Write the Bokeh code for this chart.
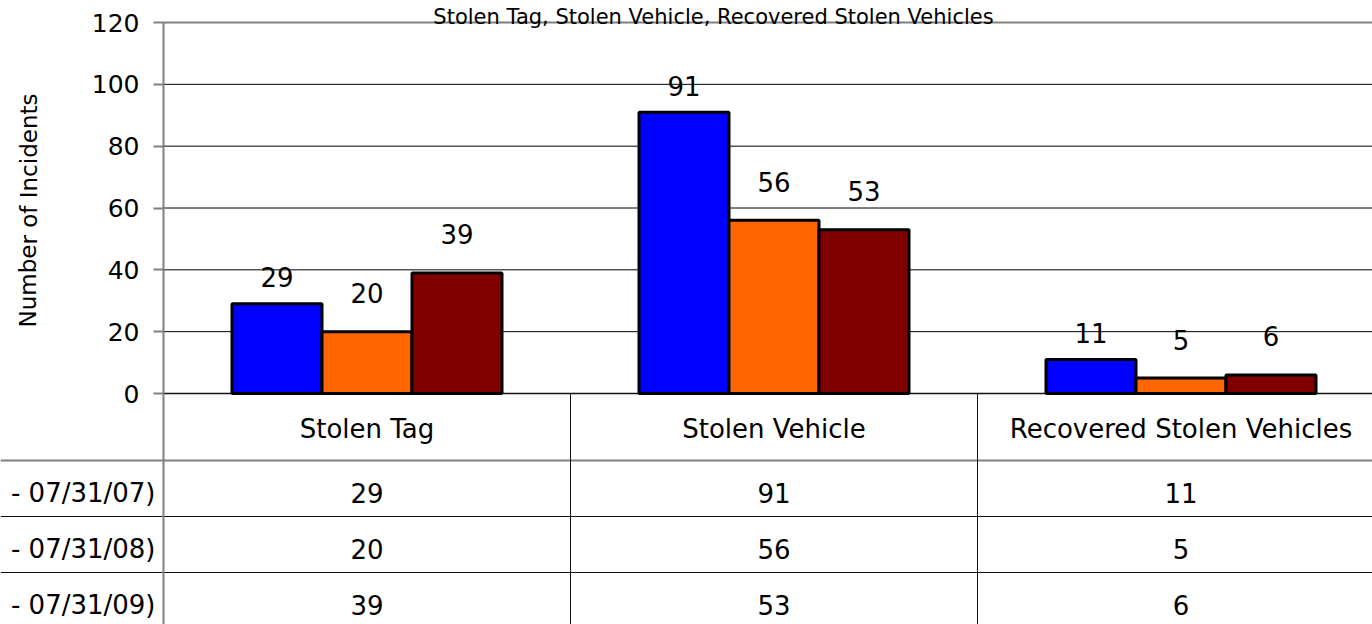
from bokeh.plotting import figure
from bokeh.models import Range1d, LinearAxis, FixedTicker, ColumnDataSource
from bokeh.core.properties import value
from bokeh.embed import file_html
from bokeh.resources import INLINE

# ---------------- data ----------------
title = "Stolen Tag, Stolen Vehicle, Recovered Stolen Vehicles"
y_axis_title = "Number of Incidents"
categories = ["Stolen Tag", "Stolen Vehicle", "Recovered Stolen Vehicles"]
series_names = ["- 07/31/07)", "- 07/31/08)", "- 07/31/09)"]
values_2007 = [29, 91, 11]
values_2008 = [20, 56, 5]
values_2009 = [39, 53, 6]
y_ticks = [0, 20, 40, 60, 80, 100, 120]

series_values = [values_2007, values_2008, values_2009]

# ---------------- styles / layout ----------------
COLORS = ["#0000FF", "#FF6600", "#800000"]
FONT = "DejaVu Sans"
W, H = 1372, 624
PX_CAT = 407.0           # px per category
PX_VAL = 371.0 / 120.0   # px per incident
LEFT_PAD = 163.0         # px from canvas left to value axis
TOP_PAD = 22.0           # px from canvas top to 120 line
BAR_W = 90.0 / PX_CAT
LABEL_DY = [-26.5, -38.5, -38.5]

x_lo = -LEFT_PAD / PX_CAT
x_hi = (W - LEFT_PAD) / PX_CAT
y_hi = 120 + TOP_PAD / PX_VAL
zero_px = TOP_PAD + 120 * PX_VAL          # canvas y of 0 line
y_lo = -(H - zero_px) / PX_VAL

p = figure(width=W, height=H, x_range=Range1d(x_lo, x_hi), y_range=Range1d(y_lo, y_hi),
           x_axis_type=None, y_axis_type=None, toolbar_location=None,
           output_backend="svg", min_border=0)
p.outline_line_color = None
p.background_fill_color = "white"
p.border_fill_color = "white"

# table range in px below the zero line
p.extra_y_ranges = {"tbl": Range1d(start=H - zero_px, end=-zero_px)}

n = len(categories)

# grid lines
mid_ticks = y_ticks[1:-1]
p.segment(x0=[0] * len(mid_ticks), x1=[x_hi] * len(mid_ticks), y0=mid_ticks, y1=mid_ticks,
          line_color="#000000", line_width=1)
p.segment(x0=[0], x1=[x_hi], y0=[y_ticks[-1]], y1=[y_ticks[-1]], line_color="#808080", line_width=2)
p.segment(x0=[0], x1=[x_hi], y0=[y_ticks[0]], y1=[y_ticks[0]], line_color="#111111", line_width=1.5)

# bars
for j, vals in enumerate(series_values):
    xs = [i + 0.5 + (j - 1) * BAR_W for i in range(n)]
    src = ColumnDataSource(dict(x=xs, top=vals, lab=[str(v) for v in vals]))
    p.vbar(x="x", top="top", bottom=0, width=BAR_W, source=src,
           fill_color=COLORS[j], line_color="black", line_width=3)
    p.text(x="x", y="top", text="lab", source=src, y_offset=LABEL_DY[j],
           text_align="center", text_baseline="middle",
           text_font=value(FONT), text_font_size="26px", text_color="black")

# value axis
yaxis = LinearAxis(fixed_location=0, bounds=(0, 120),
                   ticker=FixedTicker(ticks=y_ticks, minor_ticks=[]),
                   major_tick_out=10, major_tick_in=0, minor_tick_out=0, minor_tick_in=0,
                   axis_line_color="#808080", axis_line_width=2,
                   major_tick_line_color="#808080", major_tick_line_width=2,
                   major_label_text_font=FONT, major_label_text_font_size="25px",
                   major_label_standoff=14, major_label_text_color="black")
p.add_layout(yaxis, "left")

# axis title
p.text(x=[(28 - LEFT_PAD) / PX_CAT], y=[(zero_px - 210) / PX_VAL], text=[y_axis_title],
       angle=1.5707963, text_align="center", text_baseline="middle", text_font=value(FONT),
       text_font_size="23px", text_color="black")

# chart title (kept in the thin band above the plot)
p.text(x=[(713 - LEFT_PAD) / PX_CAT], y=[120 + 5.5 / PX_VAL], text=[title],
       text_align="center", text_baseline="alphabetic", text_font=value(FONT),
       text_font_size="21px", text_color="black")

# ---------------- data table ----------------
HEADER_H = 67
ROW_H = 56
row_lines = [HEADER_H + k * ROW_H for k in range(len(series_names))]
tbl_bottom = H - zero_px

p.segment(x0=[x_lo], x1=[x_hi], y0=[row_lines[0]], y1=[row_lines[0]],
          line_color="#808080", line_width=2, y_range_name="tbl")
p.segment(x0=[x_lo] * 2, x1=[x_hi] * 2, y0=row_lines[1:], y1=row_lines[1:],
          line_color="#111111", line_width=1, y_range_name="tbl")
p.segment(x0=[0], x1=[0], y0=[0], y1=[tbl_bottom], line_color="#808080", line_width=2,
          y_range_name="tbl")
p.segment(x0=[1, 2], x1=[1, 2], y0=[0, 0], y1=[tbl_bottom, tbl_bottom],
          line_color="#111111", line_width=1, y_range_name="tbl")

cat_x = [i + 0.5 for i in range(n)]
p.text(x=cat_x, y=[HEADER_H / 2 + 1.5] * n, text=categories, y_range_name="tbl",
       text_align="center", text_baseline="middle", text_font=value(FONT),
       text_font_size="26px", text_color="black")

for k, vals in enumerate(series_values):
    ty = HEADER_H + k * ROW_H + ROW_H / 2 + 4.5
    p.text(x=cat_x, y=[ty] * n, text=[str(v) for v in vals], y_range_name="tbl",
           text_align="center", text_baseline="middle", text_font=value(FONT),
           text_font_size="26px", text_color="black")
    p.text(x=[-8 / PX_CAT], y=[ty], text=[series_names[k]], y_range_name="tbl",
           text_align="right", text_baseline="middle", text_font=value(FONT),
           text_font_size="26px", text_color="black")

open("out.html", "w").write(file_html(p, INLINE))
